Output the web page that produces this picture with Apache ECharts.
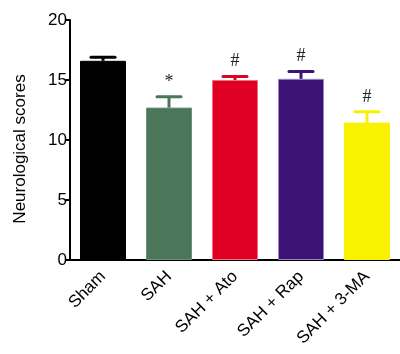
<!DOCTYPE html>
<html><head><meta charset="utf-8">
<script src="https://cdn.jsdelivr.net/npm/echarts@6/dist/echarts.min.js"></script>
<style>html,body{margin:0;padding:0;background:#fff}#c{width:400px;height:354px}</style>
</head><body><div id="c"></div>
<script>
const categories = ['Sham', 'SAH', 'SAH + Ato', 'SAH + Rap', 'SAH + 3-MA'];
const means = [16.6, 12.7, 15.0, 15.1, 11.45];
const errors = [0.3, 0.9, 0.3, 0.6, 0.9];
const marks = ['', '*', '#', '#', '#'];
const colors = ['#000000', '#4c765a', '#e00024', '#3d1276', '#f8f200'];
const borderColors = ['#000000', '#6a9277', '#f07080', '#9a86c6', '#f8f200'];
const yTicks = [0, 5, 10, 15, 20];
const yName = 'Neurological scores';

const chart = echarts.init(document.getElementById('c'));
chart.setOption({
  animation: false,
  grid: {left: 70, right: -2, top: 20, bottom: 94},
  graphic: [{
    type: 'text', x: 20, y: 149, rotation: Math.PI / 2,
    style: {text: yName, fontSize: 17, fill: '#000', fontFamily: 'Liberation Sans', align: 'center', verticalAlign: 'middle'}
  }],
  xAxis: {
    type: 'category', data: categories,
    axisLine: {lineStyle: {color: '#000', width: 2}},
    axisTick: {alignWithLabel: true, length: 7, lineStyle: {color: '#000', width: 2}},
    axisLabel: {rotate: 45, fontSize: 17, color: '#000', fontFamily: 'Liberation Sans', margin: 14}
  },
  yAxis: {
    type: 'value', min: yTicks[0], max: yTicks[yTicks.length - 1], interval: 5,
    axisLine: {show: true, lineStyle: {color: '#000', width: 2}},
    axisTick: {show: true, length: 5, lineStyle: {color: '#000', width: 2}},
    splitLine: {show: false},
    axisLabel: {fontSize: 17, color: '#000', fontFamily: 'Liberation Sans', margin: 3}
  },
  series: [
    {
      type: 'bar', barWidth: 46,
      data: means.map((v, i) => ({value: v, itemStyle: {color: colors[i], borderColor: borderColors[i], borderWidth: 1}})),
      z: 2
    },
    {
      type: 'custom', z: 3,
      data: means.map((v, i) => [i, v, errors[i]]),
      renderItem: function (params, api) {
        const i = api.value(0);
        const base = api.coord([i, api.value(1)]);
        const top = api.coord([i, api.value(1) + api.value(2)]);
        const c = colors[i];
        const half = 12;
        return {
          type: 'group',
          children: [
            {type: 'line', shape: {x1: base[0], y1: base[1], x2: top[0], y2: top[1]}, style: {stroke: c, lineWidth: 3}},
            {type: 'line', shape: {x1: top[0] - half, y1: top[1], x2: top[0] + half, y2: top[1]}, style: {stroke: c, lineWidth: 3, lineCap: 'round'}},
            {type: 'text', style: {text: marks[i], x: top[0], y: top[1] - 15, align: 'center', verticalAlign: 'middle', fontSize: 18, fontWeight: 'normal', fill: '#222', fontFamily: 'Liberation Serif'}}
          ]
        };
      }
    }
  ]
});
</script></body></html>
